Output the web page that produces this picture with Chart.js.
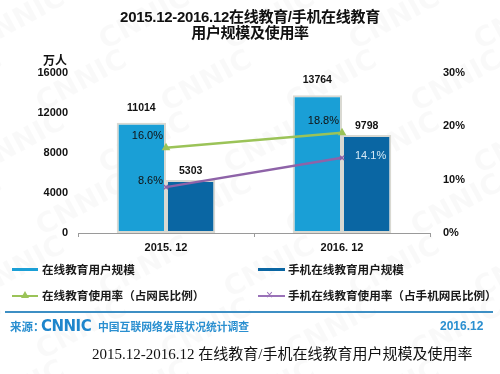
<!DOCTYPE html>
<html>
<head>
<meta charset="utf-8">
<script src="https://cdn.jsdelivr.net/npm/chart.js@4/dist/chart.umd.min.js"></script>
<style>
  html, body { margin: 0; padding: 0; background: #fff; }
  #wrap { position: relative; width: 500px; height: 374px; overflow: hidden; }
  #c { position: absolute; left: 0; top: 0; }
  .t { position: absolute; white-space: nowrap; font-family: "Liberation Sans", "Noto Sans CJK SC", sans-serif; }
  .title { left: 0; width: 500px; text-align: center; font-weight: bold; font-size: 15px; color: #111; letter-spacing: -0.3px; line-height: 16px; }
  .leg { font-family: "Noto Sans CJK SC", sans-serif; font-weight: bold; font-size: 11.6px; color: #1a1a1a; line-height: 16px; }
  .sym { position: absolute; }
</style>
</head>
<body>
<div id="wrap">
  <canvas id="c" width="500" height="374"></canvas>
  <div class="t title" style="top:9px;">2015.12-2016.12在线教育/手机在线教育</div>
  <div class="t title" style="top:25px;">用户规模及使用率</div>
  <div class="t" style="left:43px;top:52px;font-family:'Noto Sans CJK SC';font-weight:bold;font-size:12px;line-height:16px;color:#111;">万人</div>

  <div class="sym" style="left:12px;top:268px;width:26px;height:3px;background:#1a9fd6;"></div>
  <div class="t leg" style="left:42px;top:261px;">在线教育用户规模</div>
  <div class="sym" style="left:258px;top:268px;width:27px;height:3px;background:#0a66a3;"></div>
  <div class="t leg" style="left:288px;top:261px;">手机在线教育用户规模</div>

  <div class="sym" style="left:12px;top:295px;width:26px;height:1.5px;background:#9bc358;"></div>
  <div class="sym" style="left:21px;top:291px;width:0;height:0;border-left:4px solid transparent;border-right:4px solid transparent;border-bottom:7px solid #9bc358;"></div>
  <div class="t leg" style="left:42px;top:287px;">在线教育使用率（占网民比例）</div>
  <div class="sym" style="left:258px;top:295px;width:27px;height:1.5px;background:#9a72b8;"></div>
  <div class="t" style="left:266px;top:287px;font-size:12px;line-height:16px;color:#9a72b8;">×</div>
  <div class="t leg" style="left:288px;top:287px;">手机在线教育使用率（占手机网民比例）</div>

  <div class="sym" style="left:5px;top:311px;width:488px;height:2px;background:#3d8fc4;"></div>
  <div class="t" style="left:10px;top:318px;font-family:'Noto Sans CJK SC';font-weight:bold;font-size:11.5px;line-height:16px;color:#2a8fd0;">来源：</div>
  <div class="t" style="left:41px;top:317px;font-family:'DejaVu Sans';font-weight:bold;font-size:15px;line-height:18px;color:#1f86cc;letter-spacing:-0.5px;">CNNIC</div>
  <div class="t" style="left:98px;top:318px;font-family:'Noto Sans CJK SC';font-weight:bold;font-size:10.8px;line-height:16px;color:#2a8fd0;">中国互联网络发展状况统计调查</div>
  <div class="t" style="left:440px;top:318px;font-family:'Liberation Sans';font-weight:bold;font-size:12px;line-height:16px;color:#2a8fd0;">2016.12</div>

  <div class="t" style="left:92px;top:345px;font-family:'Liberation Serif','Noto Sans CJK SC';font-size:15px;line-height:18px;color:#111;">2015.12-2016.12 在线教育/手机在线教育用户规模及使用率</div>
</div>
<script>
// ---- data ----
const categories = ['2015. 12', '2016. 12'];
const onlineUsers = [11014, 13764];      // 在线教育用户规模 (万人)
const mobileUsers = [5303, 9798];        // 手机在线教育用户规模 (万人)
const onlineRate = [16.0, 18.8];         // 在线教育使用率 (%)
const mobileRate = [8.6, 14.1];          // 手机在线教育使用率 (%)
const leftAxisMax = 16000;
const leftAxisStep = 4000;
const rightAxisMax = 30;
const rightAxisStep = 10;

// ---- label styles ----
const barLabelGap = [15, 9];
const rateLabelStyle = [
  [{align:'right', dx:-3, dy:-12, color:'#111'}, {align:'right', dx:-3, dy:-12, color:'#111'}],
  [{align:'right', dx:-3, dy:-6, color:'#111'}, {align:'left', dx:13, dy:-2, color:'#d6eaf6'}]
];

Chart.defaults.font.family = '"Liberation Sans", Arial, sans-serif';
Chart.defaults.color = '#111';

const watermark = {
  id: 'watermark',
  beforeDraw(chart) {
    const ctx = chart.ctx;
    ctx.save();
    ctx.font = 'bold 28px "DejaVu Sans"';
    ctx.fillStyle = 'rgba(0,0,0,0.025)';
    ctx.textAlign = 'center';
    ctx.textBaseline = 'middle';
    for (let row = -1; row < 7; row++) {
      for (let col = -1; col < 6; col++) {
        const x = col * 125 + (row % 2 ? 62 : 0) + 20;
        const y = row * 62 + 20;
        ctx.save();
        ctx.translate(x, y);
        ctx.rotate(-0.5);
        ctx.fillText('CNNIC', 0, 0);
        ctx.restore();
      }
    }
    ctx.restore();
  }
};

const valueLabels = {
  id: 'valueLabels',
  afterDatasetsDraw(chart) {
    const ctx = chart.ctx;
    ctx.save();
    ctx.textBaseline = 'middle';
    [0, 1].forEach(di => {
      const meta = chart.getDatasetMeta(di);
      const ds = chart.data.datasets[di];
      ctx.font = 'bold 10.5px "Liberation Sans"';
      ctx.fillStyle = '#111';
      ctx.textAlign = 'center';
      meta.data.forEach((el, i) => {
        ctx.fillText(String(ds.data[i]), el.x, el.y - barLabelGap[di]);
      });
    });
    [2, 3].forEach((di, k) => {
      const meta = chart.getDatasetMeta(di);
      const ds = chart.data.datasets[di];
      ctx.font = '11px "Liberation Sans"';
      meta.data.forEach((el, i) => {
        const s = rateLabelStyle[k][i];
        ctx.fillStyle = s.color;
        ctx.textAlign = s.align;
        ctx.fillText(ds.data[i].toFixed(1) + '%', el.x + s.dx, el.y + s.dy);
      });
    });
    ctx.restore();
  }
};

new Chart(document.getElementById('c'), {
  data: {
    labels: categories,
    datasets: [
      { type: 'bar', label: '在线教育用户规模', data: onlineUsers, yAxisID: 'y',
        backgroundColor: '#1a9fd6', borderColor: '#d9d9d2', borderWidth: 2, borderSkipped: false,
        categoryPercentage: 0.56, barPercentage: 1, order: 2 },
      { type: 'bar', label: '手机在线教育用户规模', data: mobileUsers, yAxisID: 'y',
        backgroundColor: '#0a66a3', borderColor: '#d9d9d2', borderWidth: 2, borderSkipped: false,
        categoryPercentage: 0.56, barPercentage: 1, order: 2 },
      { type: 'line', label: '在线教育使用率（占网民比例）', data: onlineRate, yAxisID: 'y1',
        borderColor: '#9bc358', backgroundColor: '#9bc358', borderWidth: 2.5, tension: 0,
        pointStyle: 'triangle', pointRadius: 5, pointBorderWidth: 0, order: 0 },
      { type: 'line', label: '手机在线教育使用率（占手机网民比例）', data: mobileRate, yAxisID: 'y1',
        borderColor: '#8e63a8', backgroundColor: '#8e63a8', borderWidth: 2.5, tension: 0,
        pointStyle: 'crossRot', pointRadius: 3, pointBorderWidth: 1.5, order: 0 }
    ]
  },
  options: {
    responsive: false,
    animation: false,
    layout: { padding: { left: 0, right: 0, top: 73, bottom: 117 } },
    plugins: { legend: { display: false }, tooltip: { enabled: false }, title: { display: false } },
    scales: {
      x: {
        offset: true,
        grid: { offset: true, drawOnChartArea: false, drawTicks: true, tickLength: 4, color: '#9a9a9a' },
        border: { display: true, color: '#9a9a9a', width: 1 },
        ticks: { font: { size: 11, weight: 'bold' }, color: '#111', padding: 4 },
        afterFit(s) { s.height = 24; }
      },
      y: {
        position: 'left', min: 0, max: leftAxisMax,
        ticks: { stepSize: leftAxisStep, font: { size: 11, weight: 'bold' }, color: '#111', padding: 10,
                 callback: v => String(v) },
        grid: { display: false, drawTicks: false },
        border: { display: false },
        afterFit(s) { s.width = 78; }
      },
      y1: {
        position: 'right', min: 0, max: rightAxisMax,
        ticks: { stepSize: rightAxisStep, font: { size: 11, weight: 'bold' }, color: '#111', padding: 13,
                 callback: v => v + '%' },
        grid: { display: false, drawTicks: false },
        border: { display: false },
        afterFit(s) { s.width = 70; }
      }
    }
  },
  plugins: [watermark, valueLabels]
});
</script>
</body>
</html>
